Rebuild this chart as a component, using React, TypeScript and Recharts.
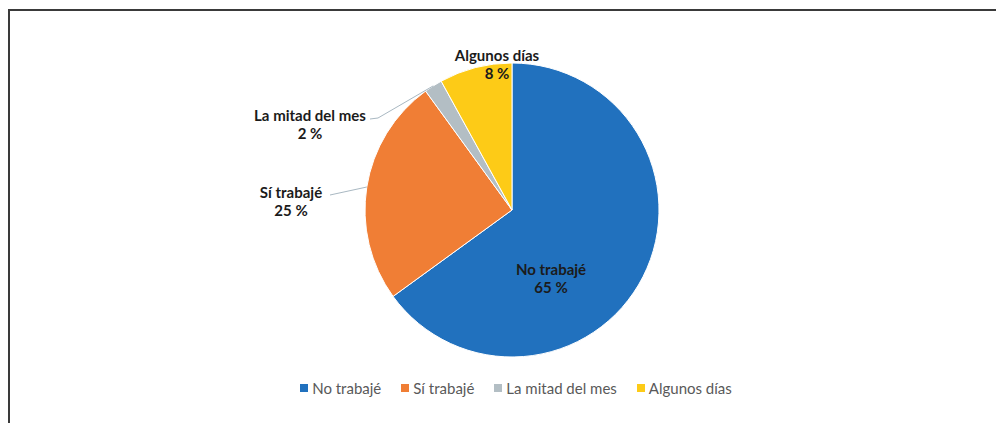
import { PieChart, Pie, Cell, Legend } from 'recharts'

const categories = ['No trabajé', 'Sí trabajé', 'La mitad del mes', 'Algunos días']
const shares = [65, 25, 2, 8]
const colors = ['#2171BE', '#F07E35', '#B3BEC4', '#FDCB17']

// label anchor offsets from the pie centre (px), plus leader line elbows
const labelPlace = [
  { dx: 39, dy: 68, line: null as null | number[][] },
  { dx: -221, dy: -9, line: [[-182, -15]] },
  { dx: -202, dy: -86, line: [[-134, -92], [-142, -91]] },
  { dx: -15, dy: -146, line: null },
]

const data = categories.map((name, i) => ({ name, value: shares[i] }))

const RAD = Math.PI / 180

function renderLabel(props: any) {
  const { cx, cy, midAngle, outerRadius, index, value, name } = props
  const p = labelPlace[index]
  const x = cx + p.dx
  const y = cy + p.dy
  let path = null
  if (p.line) {
    const ex = cx + outerRadius * Math.cos(-midAngle * RAD)
    const ey = cy + outerRadius * Math.sin(-midAngle * RAD)
    const pts = [[ex, ey], ...p.line.map(([a, b]) => [cx + a, cy + b])]
    path = (
      <polyline
        points={pts.map((q) => q.join(',')).join(' ')}
        fill="none"
        stroke="#A9B8C2"
        strokeWidth={1}
      />
    )
  }
  return (
    <g>
      {path}
      <text x={x} y={y - 9} textAnchor="middle" dominantBaseline="central" fill="#1b1b1b" fontSize={15} fontWeight={700} fontFamily="Lato, sans-serif">
        {name}
      </text>
      <text x={x} y={y + 9} textAnchor="middle" dominantBaseline="central" fill="#1b1b1b" fontSize={15} fontWeight={700} fontFamily="Lato, sans-serif">
        {value} %
      </text>
    </g>
  )
}

function LegendRow() {
  return (
    <div style={{ display: 'flex', justifyContent: 'center', paddingLeft: 18, fontFamily: 'Lato, sans-serif', fontSize: 15, color: '#595959' }}>
      {categories.map((c, i) => (
        <div key={c} style={{ display: 'flex', alignItems: 'center', marginRight: i < categories.length - 1 ? 20 : 0 }}>
          <span style={{ width: 8, height: 8, background: colors[i], marginRight: 4, display: 'inline-block' }} />
          <span>{c}</span>
        </div>
      ))}
    </div>
  )
}

export default function App() {
  return (
    <div
      style={{
        width: 996,
        height: 414,
        marginTop: 1,
        borderLeft: '2px solid #3a3a3a',
        borderTop: '2px solid #3a3a3a',
        boxSizing: 'border-box',
        background: '#fff',
      }}
    >
      <PieChart width={994} height={412}>
        <Pie
          data={data}
          dataKey="value"
          nameKey="name"
          cx={497}
          cy={194}
          outerRadius={147}
          startAngle={90}
          endAngle={-270}
          stroke="#fff"
          strokeWidth={1}
          label={renderLabel}
          labelLine={false}
          isAnimationActive={false}
        >
          {data.map((d, i) => (
            <Cell key={d.name} fill={colors[i]} />
          ))}
        </Pie>
        <Legend content={<LegendRow />} wrapperStyle={{ position: 'absolute', top: 368, left: 0, width: 994 }} />
      </PieChart>
    </div>
  )
}
